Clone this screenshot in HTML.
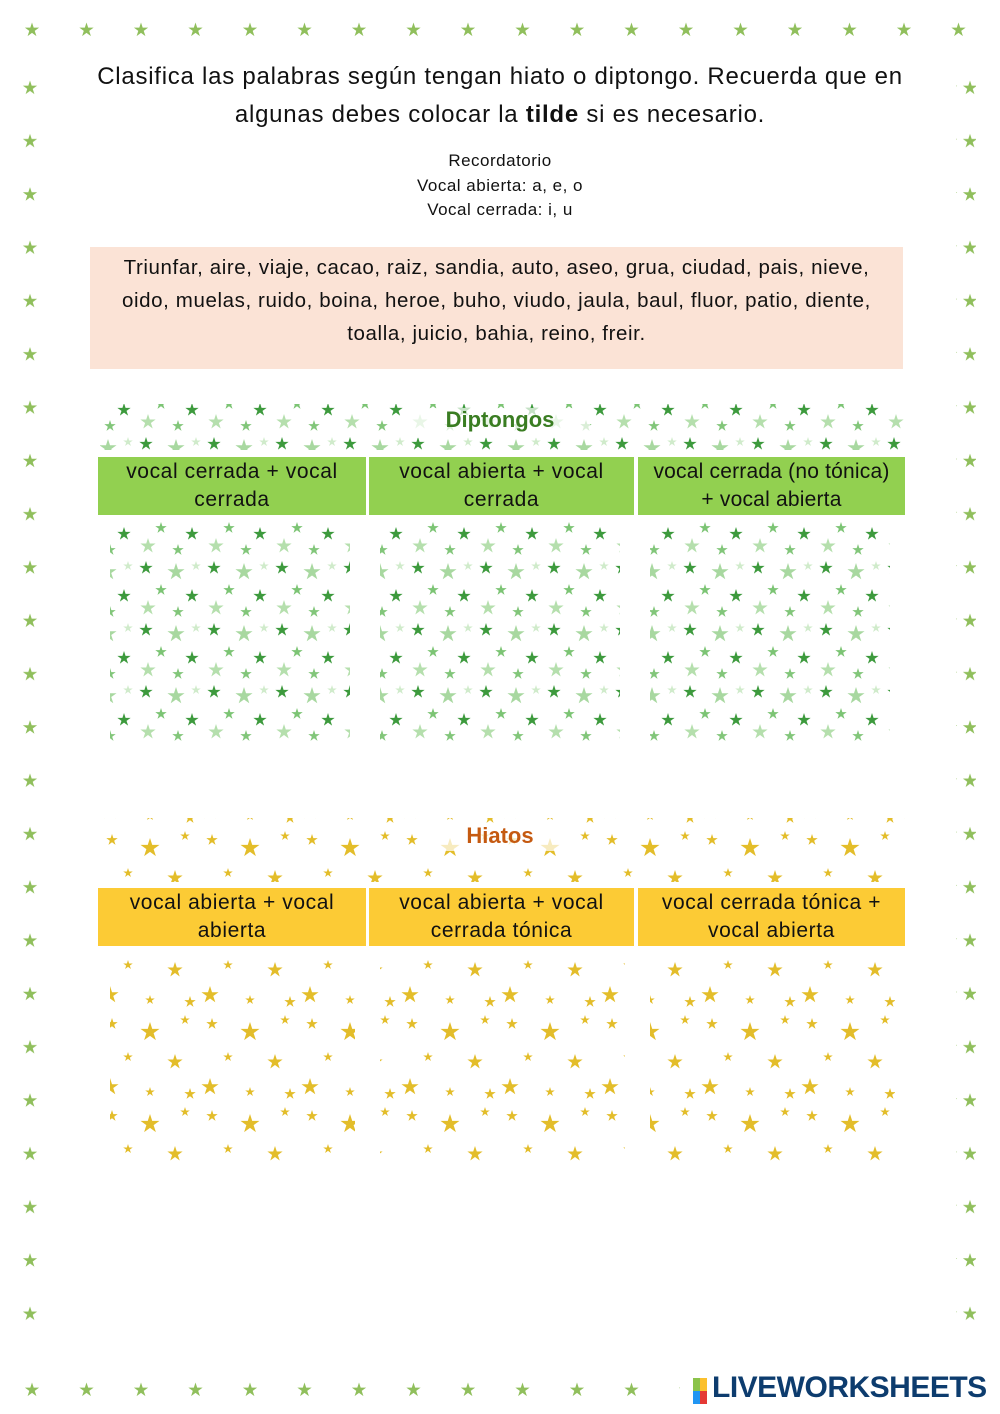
<!DOCTYPE html>
<html><head><meta charset="utf-8"><style>
body{margin:0;background:#fff;}
#p{position:relative;width:1000px;height:1414px;overflow:hidden;font-family:"Liberation Sans",sans-serif;color:#111;}
svg{position:absolute;left:0;top:0;}
.t{position:absolute;left:0;width:1000px;text-align:center;}
.h{position:absolute;display:flex;align-items:center;justify-content:center;text-align:center;font-size:21px;letter-spacing:0.6px;line-height:28px;}
</style></head><body><div id="p">
<svg width="1000" height="1414">
<defs>
<polygon id="s" points="0,-1 0.224,-0.309 0.951,-0.309 0.363,0.118 0.588,0.809 0,0.382 -0.588,0.809 -0.363,0.118 -0.951,-0.309 -0.224,-0.309"/>
<pattern id="g" width="68" height="62" patternUnits="userSpaceOnUse">
<use href="#s" transform="translate(10,10) scale(7)" fill="#3d9a3d"/>
<use href="#s" transform="translate(40,14) scale(9)" fill="#a8d8a0"/>
<use href="#s" transform="translate(25,32) scale(6)" fill="#7cc474"/>
<use href="#s" transform="translate(56,38) scale(7)" fill="#3d9a3d"/>
<use href="#s" transform="translate(12,50) scale(8)" fill="#b5dfad"/>
<use href="#s" transform="translate(42,54) scale(6)" fill="#82c67a"/>
<use href="#s" transform="translate(60,8) scale(5)" fill="#d0ebcb"/>
</pattern>
<pattern id="y" width="100" height="92" patternUnits="userSpaceOnUse">
<use href="#s" transform="translate(12,12) scale(6)" fill="#e3bd2a"/>
<use href="#s" transform="translate(50,20) scale(10)" fill="#e3bd2a"/>
<use href="#s" transform="translate(85,8) scale(5)" fill="#e3bd2a"/>
<use href="#s" transform="translate(28,45) scale(5)" fill="#e3bd2a"/>
<use href="#s" transform="translate(75,50) scale(8)" fill="#e3bd2a"/>
<use href="#s" transform="translate(10,75) scale(9)" fill="#e3bd2a"/>
<use href="#s" transform="translate(50,80) scale(5)" fill="#e3bd2a"/>
<use href="#s" transform="translate(90,82) scale(6)" fill="#e3bd2a"/>
</pattern>
<pattern id="bt" x="5" width="54.5" height="20" patternUnits="userSpaceOnUse"><use href="#s" transform="translate(27,10) scale(7.5)" fill="#90bf5c"/></pattern>
<pattern id="bl" y="61" width="20" height="53.3" patternUnits="userSpaceOnUse"><use href="#s" transform="translate(10,27) scale(7.5)" fill="#90bf5c"/></pattern>
</defs>
<rect x="20" y="20" width="960" height="20" fill="url(#bt)"/>
<rect x="20" y="1382" width="660" height="20" fill="url(#bt)"/>
<rect x="18" y="61" width="20" height="1290" fill="url(#bl)"/>
<rect x="956" y="61" width="20" height="1290" fill="url(#bl)"/>
<rect x="90" y="247" width="813" height="122" fill="#fbe3d6"/>
<rect x="100" y="404" width="805" height="46" fill="url(#g)"/>
<rect x="110" y="518" width="240" height="228" fill="url(#g)"/>
<rect x="380" y="518" width="240" height="228" fill="url(#g)"/>
<rect x="650" y="518" width="240" height="228" fill="url(#g)"/>
<rect x="100" y="818" width="805" height="64" fill="url(#y)"/>
<rect x="110" y="955" width="245" height="212" fill="url(#y)"/>
<rect x="380" y="955" width="245" height="212" fill="url(#y)"/>
<rect x="650" y="955" width="245" height="212" fill="url(#y)"/>
<rect x="410" y="408" width="180" height="30" fill="#fff" opacity="0.7"/>
<rect x="440" y="823" width="120" height="28" fill="#fff" opacity="0.7"/>
</svg>
<div class="t" style="top:58px;font-size:24px;letter-spacing:0.75px;line-height:38px;">Clasifica las palabras según tengan hiato o diptongo. Recuerda que en<br>algunas debes colocar la <b>tilde</b> si es necesario.</div>
<div class="t" style="top:149px;font-size:17px;letter-spacing:0.5px;line-height:24.5px;">Recordatorio<br>Vocal abierta: a, e, o<br>Vocal cerrada: i, u</div>
<div class="t" style="top:251px;left:90px;width:813px;font-size:20.5px;letter-spacing:0.6px;line-height:33px;">Triunfar, aire, viaje, cacao, raiz, sandia, auto, aseo, grua, ciudad, pais, nieve,<br>oido, muelas, ruido, boina, heroe, buho, viudo, jaula, baul, fluor, patio, diente,<br>toalla, juicio, bahia, reino, freir.</div>
<div class="t" style="top:407px;font-size:22px;font-weight:bold;color:#3a7d22;">Diptongos</div>
<div class="h" style="left:98px;top:457px;width:268px;height:58px;background:#92d050;">vocal cerrada + vocal<br>cerrada</div>
<div class="h" style="left:369px;top:457px;width:265px;height:58px;background:#92d050;">vocal abierta + vocal<br>cerrada</div>
<div class="h" style="left:638px;top:457px;width:267px;height:58px;background:#92d050;letter-spacing:0.2px;">vocal cerrada (no tónica)<br>+ vocal abierta</div>
<div class="t" style="top:823px;font-size:22px;font-weight:bold;color:#c55a11;">Hiatos</div>
<div class="h" style="left:98px;top:888px;width:268px;height:58px;background:#fccb35;">vocal abierta + vocal<br>abierta</div>
<div class="h" style="left:369px;top:888px;width:265px;height:58px;background:#fccb35;">vocal abierta + vocal<br>cerrada tónica</div>
<div class="h" style="left:638px;top:888px;width:267px;height:58px;background:#fccb35;">vocal cerrada tónica +<br>vocal abierta</div>
<div style="position:absolute;left:693px;top:1378px;width:14px;height:26px;display:grid;grid-template-columns:7px 7px;font-size:6px;">
<span style="background:#8bc34a"></span><span style="background:#fbc02d"></span><span style="background:#2196f3"></span><span style="background:#e53935"></span></div>
<div style="position:absolute;left:712px;top:1371px;font-size:30px;font-weight:bold;color:#0d3c6e;letter-spacing:-0.5px;">LIVEWORKSHEETS</div>
</div></body></html>
